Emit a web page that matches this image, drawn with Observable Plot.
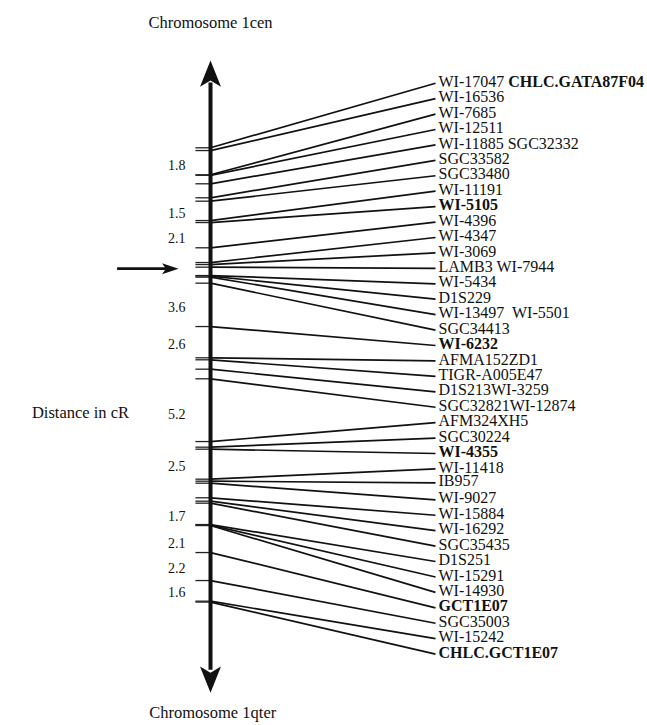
<!DOCTYPE html>
<html><head><meta charset="utf-8">
<script src="https://cdn.jsdelivr.net/npm/d3@7"></script>
<script src="https://cdn.jsdelivr.net/npm/@observablehq/plot@0.6"></script>
<style>body{margin:0;background:#fff} svg{display:block}</style>
</head><body><div id="chart"></div>
<script>
// ---- data ----
const markerLabels = ["WI-17047 CHLC.GATA87F04","WI-16536","WI-7685","WI-12511","WI-11885 SGC32332","SGC33582","SGC33480","WI-11191","WI-5105","WI-4396","WI-4347","WI-3069","LAMB3 WI-7944","WI-5434","D1S229","WI-13497  WI-5501","SGC34413","WI-6232","AFMA152ZD1","TIGR-A005E47","D1S213WI-3259","SGC32821WI-12874","AFM324XH5","SGC30224","WI-4355","WI-11418","IB957","WI-9027","WI-15884","WI-16292","SGC35435","D1S251","WI-15291","WI-14930","GCT1E07","SGC35003","WI-15242","CHLC.GCT1E07"];
// position on the radiation-hybrid map (cR from the first marker)
const markerPos = [0,0.22,2.16,2.2,2.88,4.0,4.27,5.82,5.98,8.0,9.18,9.34,9.55,10.22,10.26,10.35,10.83,14.3,16.8,16.96,17.71,18.48,23.5,23.95,24.11,26.51,26.67,26.83,28.0,28.27,28.43,30.14,30.18,30.22,32.38,34.62,36.27,36.34];
// slot in the ordered marker list
const markerRow = [0,1,2,3,4,5,6,7,8,9,10,11,12,13,14,15,16,17,18,19,20,21,22,23,24,25,25.9,27,28,29,30,31,32,33,34,35,36,37];
const boldNames = ["CHLC.GATA87F04","WI-5105","WI-6232","WI-4355","GCT1E07","CHLC.GCT1E07"];
const intervalLabels = ["1.8","1.5","2.1","3.6","2.6","5.2","2.5","1.7","2.1","2.2","1.6"];
const intervalPos = [1.42,5.28,7.26,12.75,15.74,21.34,25.5,29.5,31.63,33.68,35.55];
const keyMarkerPos = 9.67; // arrow-marked locus
const titleTop = "Chromosome 1cen";
const titleBottom = "Chromosome 1qter";
const axisTitle = "Distance in cR";

// ---- layout ----
const PX = 12.5;            // pixels per cR
const Y0 = 147.3;           // pixel of 0 cR
const H = 725, W = 647;
const rowY = r => -5.168 + r * 1.2344;  // list slot -> map units
const markers = markerLabels.map((label, i) => ({label, pos: markerPos[i], row: markerRow[i]}));
const intervals = intervalLabels.map((t, i) => ({t, pos: intervalPos[i]}));

const stealth = (len, notch) => ({
  draw(ctx, size) {
    const r = Math.sqrt(size / Math.PI);
    ctx.moveTo(0, 0);
    ctx.lineTo(r, len * r);
    ctx.lineTo(0, notch * r);
    ctx.lineTo(-r, len * r);
    ctx.closePath();
  }
});
const bigHead = stealth(2.5, 1.9);
const smallHead = stealth(3, 2.3);
const axisTop = -6.98, axisBottom = 43.6;

const font = "'Liberation Serif', 'Times New Roman', serif";
const plot = Plot.plot({
  width: W, height: H, margin: 0,
  x: {domain: [0, 1], range: [210, 435], axis: null},
  y: {domain: [-Y0 / PX, (H - Y0) / PX], range: [0, H], axis: null},
  style: {fontFamily: font, background: "white", color: "black"},
  marks: [
    // ticks on the map
    Plot.link(markers, {x1: -0.067, x2: 0, y1: "pos", y2: "pos", stroke: "#222", strokeWidth: 1.3}),
    // connectors
    Plot.link(markers, {x1: 0, x2: 1, y1: "pos", y2: d => rowY(d.row), stroke: "#111", strokeWidth: 1.7}),
    // chromosome axis
    Plot.ruleX([0], {y1: axisTop + 1.8, y2: axisBottom - 1.8, stroke: "#111", strokeWidth: 4}),
    Plot.dot([axisTop], {x: 0, y: d => d, symbol: bigHead, r: 10.5, fill: "#111", stroke: "none"}),
    Plot.dot([axisBottom], {x: 0, y: d => d, symbol: bigHead, r: 10.5, rotate: 180, fill: "#111", stroke: "none"}),
    // key locus arrow
    Plot.ruleY([keyMarkerPos], {x1: -0.413, x2: -0.175, stroke: "#111", strokeWidth: 2.7}),
    Plot.dot([keyMarkerPos], {x: -0.142, y: d => d, symbol: smallHead, r: 5.5, rotate: 90, fill: "#111", stroke: "none"}),
    // interval distances
    Plot.text(intervals, {x: -0.111, y: "pos", text: "t", textAnchor: "end", fontSize: 14, fill: "#111"}),
    // marker labels
    Plot.text(markers, {x: 1, y: d => rowY(d.row), text: "label", textAnchor: "start", dx: 3, dy: -1.5, fontSize: 16, fill: "#111", className: "marker-labels"}),
    // titles
    Plot.text([titleTop], {x: 0, y: -10.0, text: d => d, fontSize: 16.5, fill: "#111"}),
    Plot.text([titleBottom], {x: 0.01, y: 45.2, text: d => d, fontSize: 16.5, fill: "#111"}),
    Plot.text([axisTitle], {x: -0.578, y: 21.18, text: d => d, fontSize: 16.5, fill: "#111"})
  ]
});

// mixed-weight labels
d3.select(plot).selectAll("g.marker-labels text").each(function(i) {
  const el = d3.select(this);
  const label = markers[i].label;
  el.text(null).style("white-space", "pre").attr("xml:space", "preserve");
  label.split(/(\s+)/).forEach(tok => {
    if (!tok) return;
    const ts = el.append("tspan").text(tok);
    if (boldNames.includes(tok)) ts.attr("font-weight", "bold");
  });
});

document.getElementById("chart").append(plot);
</script>
</body></html>
